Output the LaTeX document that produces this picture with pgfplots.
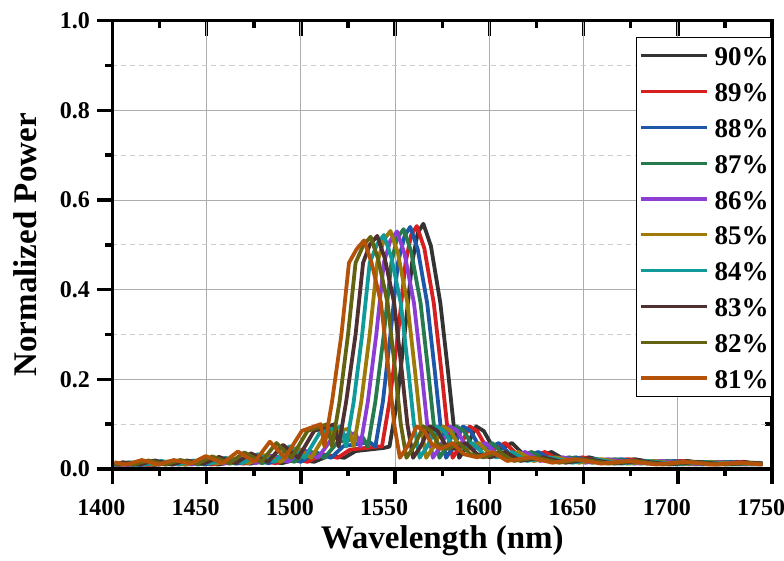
\documentclass[border=0pt]{standalone}
\usepackage{fontspec}
\setmainfont{Liberation Serif}
\usepackage{pgfplots}
\pgfplotsset{compat=1.18}

\definecolor{c90}{HTML}{333333}
\definecolor{c89}{HTML}{D71F1F}
\definecolor{c88}{HTML}{1F57A8}
\definecolor{c87}{HTML}{277A4E}
\definecolor{c86}{HTML}{8B3DD4}
\definecolor{c85}{HTML}{9E7A08}
\definecolor{c84}{HTML}{119A9A}
\definecolor{c83}{HTML}{4F3030}
\definecolor{c82}{HTML}{636312}
\definecolor{c81}{HTML}{B4520A}

\pgfplotsset{
  common/.style={
    scale only axis,
    width=659.5pt, height=448.3pt,
    xmin=1400, xmax=1750, ymin=0, ymax=1,
    xtick distance=50, minor x tick num=1,
    ytick distance=0.2, minor y tick num=1,
    axis line style={line width=3.5pt, black},
    tick style={line width=3.5pt, black},
    major tick length=15pt, minor tick length=7pt,
  },
}

\begin{document}
\begin{tikzpicture}
\useasboundingbox (-112.5pt,-91pt) rectangle (671.5pt,469pt);

% inner ticks on top and right
\begin{axis}[common,
    tick align=inside,
    xtick pos=right, ytick pos=right,
    xticklabels={}, yticklabels={},
]
\end{axis}

\begin{axis}[common,
    tick align=outside,
    xtick pos=left, ytick pos=left,
    grid=major, yminorgrids=true,
    major grid style={line width=1pt, color=black!32},
    minor grid style={line width=1pt, color=black!20, dash pattern=on 5pt off 4pt},
    /pgf/number format/assume math mode=true,
    tick label style={font=\fontsize{24}{28}\selectfont\bfseries},
    xticklabel style={/pgf/number format/1000 sep={}, yshift=-12pt, xshift=-11pt},
    yticklabel style={/pgf/number format/.cd, fixed, fixed zerofill, precision=1, /tikz/.cd, xshift=-4pt},
    xlabel={Wavelength (nm)},
    ylabel={Normalized Power},
    label style={font=\fontsize{33}{36}\selectfont\bfseries},
    xlabel style={at={(axis description cs:0.5,-0.178)}, anchor=base},
    ylabel style={at={(axis description cs:-0.1145,0.5)}, anchor=base},
    every axis plot/.append style={line width=3.8pt, line join=round},
    legend cell align=left,
    legend image code/.code={\draw[#1, line width=3.3pt] (0pt,0pt) -- (66pt,0pt);},
    legend style={at={(1,0.964)}, anchor=north east, draw=black, line width=1pt,
      fill=white, inner xsep=3pt, inner ysep=7.5pt, row sep=13.8pt,
      font=\fontsize{27}{30}\selectfont\bfseries,
      nodes={inner sep=0pt, text height=21pt, text depth=1pt},
      /tikz/every odd column/.append style={column sep=6pt}},
]
\addplot[c90] coordinates {
(1401,0.009) (1413,0.012) (1422,0.009) (1430,0.013) (1439,0.010) (1447,0.014) (1456,0.010) (1464,0.016)
(1473,0.012) (1481,0.018) (1490,0.013) (1498,0.022) (1507,0.016) (1515,0.030) (1523,0.025) (1529,0.040)
(1544,0.047) (1547,0.050) (1551,0.15) (1555,0.30) (1559,0.46) (1562,0.527) (1565,0.547)
(1569,0.497) (1574,0.37) (1578,0.22) (1581,0.10) (1584,0.025) (1588,0.05) (1593,0.095) (1597,0.085)
(1601,0.055) (1606,0.045) (1612,0.058) (1618,0.033) (1625,0.026) (1633,0.038) (1641,0.018) (1653,0.026)
(1665,0.014) (1677,0.022) (1691,0.012) (1705,0.018) (1720,0.010) (1735,0.016) (1745,0.011)
};
\addlegendentry{90\%}
\addplot[c89] coordinates {
(1401.5,0.008) (1409.5,0.012) (1418.5,0.009) (1426.5,0.013) (1435.5,0.010) (1443.5,0.015) (1452.5,0.010)
(1460.5,0.016) (1469.5,0.012) (1477.5,0.019) (1486.5,0.013) (1494.5,0.024) (1503.5,0.016) (1511.5,0.033)
(1519.5,0.025) (1526,0.043) (1540.5,0.050) (1543,0.05) (1547,0.15) (1551.5,0.30) (1555.5,0.46)
(1558.5,0.522) (1561.5,0.542)
(1565.5,0.492) (1570.5,0.37) (1574.5,0.22) (1577.5,0.10) (1580.5,0.025) (1584.5,0.05) (1589.5,0.095)
(1593.5,0.085) (1597.5,0.055) (1602.5,0.045) (1608.5,0.058) (1614.5,0.033) (1621.5,0.026) (1629.5,0.038)
(1637.5,0.018) (1649.5,0.026) (1661.5,0.014) (1673.5,0.022) (1687.5,0.012) (1701.5,0.018) (1716.5,0.010)
(1731.5,0.016) (1745,0.011)
};
\addlegendentry{89\%}
\addplot[c88] coordinates {
(1401,0.009) (1406,0.012) (1415,0.009) (1423,0.014) (1432,0.010) (1440,0.015) (1449,0.010) (1457,0.017)
(1466,0.012) (1474,0.020) (1483,0.013) (1491,0.026) (1500,0.016) (1508,0.037) (1516,0.025) (1522.5,0.051)
(1536.5,0.060) (1539.5,0.05) (1543.5,0.15) (1547.5,0.30) (1551.5,0.46) (1555,0.52) (1558,0.540)
(1562,0.49) (1567,0.37) (1571,0.22) (1574,0.10) (1577,0.025) (1581,0.05) (1586,0.095) (1590,0.085)
(1594,0.055) (1599,0.045) (1605,0.058) (1611,0.033) (1618,0.026) (1626,0.038) (1634,0.018) (1646,0.026)
(1658,0.014) (1670,0.022) (1684,0.012) (1698,0.018) (1713,0.010) (1728,0.016) (1743,0.010) (1745,0.011)
};
\addlegendentry{88\%}
\addplot[c87] coordinates {
(1401,0.012) (1411.5,0.009) (1419.5,0.014) (1428.5,0.010) (1436.5,0.016) (1445.5,0.010) (1453.5,0.017)
(1462.5,0.012) (1470.5,0.022) (1479.5,0.013) (1487.5,0.028) (1496.5,0.016) (1504.5,0.040) (1512.5,0.025)
(1519.5,0.060) (1533,0.070) (1535.5,0.05) (1539.5,0.15) (1544,0.30) (1548,0.46) (1551,0.515) (1554.5,0.535)
(1558.5,0.485) (1563.5,0.37) (1567.5,0.22) (1570.5,0.10) (1573.5,0.025) (1577.5,0.05) (1582.5,0.095)
(1586.5,0.085) (1590.5,0.055) (1595.5,0.045) (1601.5,0.058) (1607.5,0.033) (1614.5,0.026) (1622.5,0.038)
(1630.5,0.018) (1642.5,0.026) (1654.5,0.014) (1666.5,0.022) (1680.5,0.012) (1694.5,0.018) (1709.5,0.010)
(1724.5,0.016) (1739.5,0.010) (1745,0.012)
};
\addlegendentry{87\%}
\addplot[c86] coordinates {
(1401,0.012) (1408,0.009) (1416,0.014) (1425,0.010) (1433,0.017) (1442,0.010) (1450,0.018) (1459,0.012)
(1467,0.023) (1476,0.013) (1484,0.030) (1493,0.016) (1501,0.044) (1509,0.025) (1516.5,0.068) (1529,0.080)
(1531.5,0.05) (1535.5,0.15) (1540,0.30) (1544,0.46) (1547.5,0.51) (1551,0.530)
(1555,0.48) (1560,0.37) (1564,0.22) (1567,0.10) (1570,0.025) (1574,0.05) (1579,0.095) (1583,0.085)
(1587,0.055) (1592,0.045) (1598,0.058) (1604,0.033) (1611,0.026) (1619,0.038) (1627,0.018) (1639,0.026)
(1651,0.014) (1663,0.022) (1677,0.012) (1691,0.018) (1706,0.010) (1721,0.016) (1736,0.010) (1745,0.013)
};
\addlegendentry{86\%}
\addplot[c85] coordinates {
(1401,0.010) (1412.5,0.015) (1421.5,0.010) (1429.5,0.017) (1438.5,0.010) (1446.5,0.018) (1455.5,0.012)
(1463.5,0.024) (1472.5,0.013) (1480.5,0.031) (1489.5,0.016) (1497.5,0.047) (1505.5,0.025) (1513,0.077)
(1525.5,0.090) (1528,0.05) (1532,0.15) (1536.5,0.30) (1540.5,0.46) (1544,0.511) (1547.5,0.531)
(1551.5,0.481) (1556.5,0.37) (1560.5,0.22) (1563.5,0.10) (1566.5,0.025) (1570.5,0.05) (1575.5,0.095)
(1579.5,0.085) (1583.5,0.055) (1588.5,0.045) (1594.5,0.058) (1600.5,0.033) (1607.5,0.026) (1615.5,0.038)
(1623.5,0.018) (1635.5,0.026) (1647.5,0.014) (1659.5,0.022) (1673.5,0.012) (1687.5,0.018) (1702.5,0.010)
(1717.5,0.016) (1732.5,0.010) (1745,0.013)
};
\addlegendentry{85\%}
\addplot[c84] coordinates {
(1401,0.009) (1409,0.015) (1418,0.010) (1426,0.018) (1435,0.010) (1443,0.019) (1452,0.012) (1460,0.025)
(1469,0.013) (1477,0.033) (1486,0.016) (1494,0.051) (1502,0.025) (1510,0.081) (1521.5,0.095) (1524,0.05)
(1528,0.15) (1532.5,0.30) (1536.5,0.46) (1540.5,0.502) (1544,0.522)
(1548,0.472) (1553,0.37) (1557,0.22) (1560,0.10) (1563,0.025) (1567,0.05) (1572,0.095) (1576,0.085)
(1580,0.055) (1585,0.045) (1591,0.058) (1597,0.033) (1604,0.026) (1612,0.038) (1620,0.018) (1632,0.026)
(1644,0.014) (1656,0.022) (1670,0.012) (1684,0.018) (1699,0.010) (1714,0.016) (1729,0.010) (1744,0.014)
};
\addlegendentry{84\%}
\addplot[c83] coordinates {
(1401,0.010) (1405.5,0.015) (1414.5,0.010) (1422.5,0.019) (1431.5,0.010) (1439.5,0.019) (1448.5,0.012)
(1456.5,0.027) (1465.5,0.013) (1473.5,0.035) (1482.5,0.016) (1490.5,0.054) (1498.5,0.025) (1507,0.085)
(1518,0.100) (1520,0.05) (1524,0.15) (1529,0.30) (1533,0.46) (1536.5,0.50) (1540.5,0.520)
(1544.5,0.47) (1549.5,0.37) (1553.5,0.22) (1556.5,0.10) (1559.5,0.025) (1563.5,0.05) (1568.5,0.095)
(1572.5,0.085) (1576.5,0.055) (1581.5,0.045) (1587.5,0.058) (1593.5,0.033) (1600.5,0.026) (1608.5,0.038)
(1616.5,0.018) (1628.5,0.026) (1640.5,0.014) (1652.5,0.022) (1666.5,0.012) (1680.5,0.018) (1695.5,0.010)
(1710.5,0.016) (1725.5,0.010) (1740.5,0.014) (1745,0.012)
};
\addlegendentry{83\%}
\addplot[c82] coordinates {
(1401,0.012) (1411,0.010) (1419,0.019) (1428,0.010) (1436,0.020) (1445,0.012) (1453,0.028) (1462,0.013)
(1470,0.037) (1479,0.016) (1487,0.058) (1495,0.025) (1503.5,0.085) (1514,0.100) (1516.5,0.05)
(1520.5,0.15) (1525,0.30) (1529,0.46) (1533,0.498) (1537,0.518)
(1541,0.468) (1546,0.37) (1550,0.22) (1553,0.10) (1556,0.025) (1560,0.05) (1565,0.095) (1569,0.085)
(1573,0.055) (1578,0.045) (1584,0.058) (1590,0.033) (1597,0.026) (1605,0.038) (1613,0.018) (1625,0.026)
(1637,0.014) (1649,0.022) (1663,0.012) (1677,0.018) (1692,0.010) (1707,0.016) (1722,0.010) (1737,0.014)
(1745,0.011)
};
\addlegendentry{82\%}
\addplot[c81] coordinates {
(1401,0.015) (1407.5,0.010) (1415.5,0.020) (1424.5,0.010) (1432.5,0.020) (1441.5,0.012) (1449.5,0.029)
(1458.5,0.013) (1466.5,0.039) (1475.5,0.016) (1483.5,0.061) (1491.5,0.025) (1500.5,0.085) (1510.5,0.100)
(1512.5,0.05) (1516.5,0.15) (1521.5,0.30) (1525.5,0.46) (1529.5,0.49) (1533.5,0.510)
(1537.5,0.46) (1542.5,0.37) (1546.5,0.22) (1549.5,0.10) (1552.5,0.025) (1556.5,0.05) (1561.5,0.095)
(1565.5,0.085) (1569.5,0.055) (1574.5,0.045) (1580.5,0.058) (1586.5,0.033) (1593.5,0.026) (1601.5,0.038)
(1609.5,0.018) (1621.5,0.026) (1633.5,0.014) (1645.5,0.022) (1659.5,0.012) (1673.5,0.018) (1688.5,0.010)
(1703.5,0.016) (1718.5,0.010) (1733.5,0.014) (1745,0.010)
};
\addlegendentry{81\%}
\end{axis}
\end{tikzpicture}
\end{document}
